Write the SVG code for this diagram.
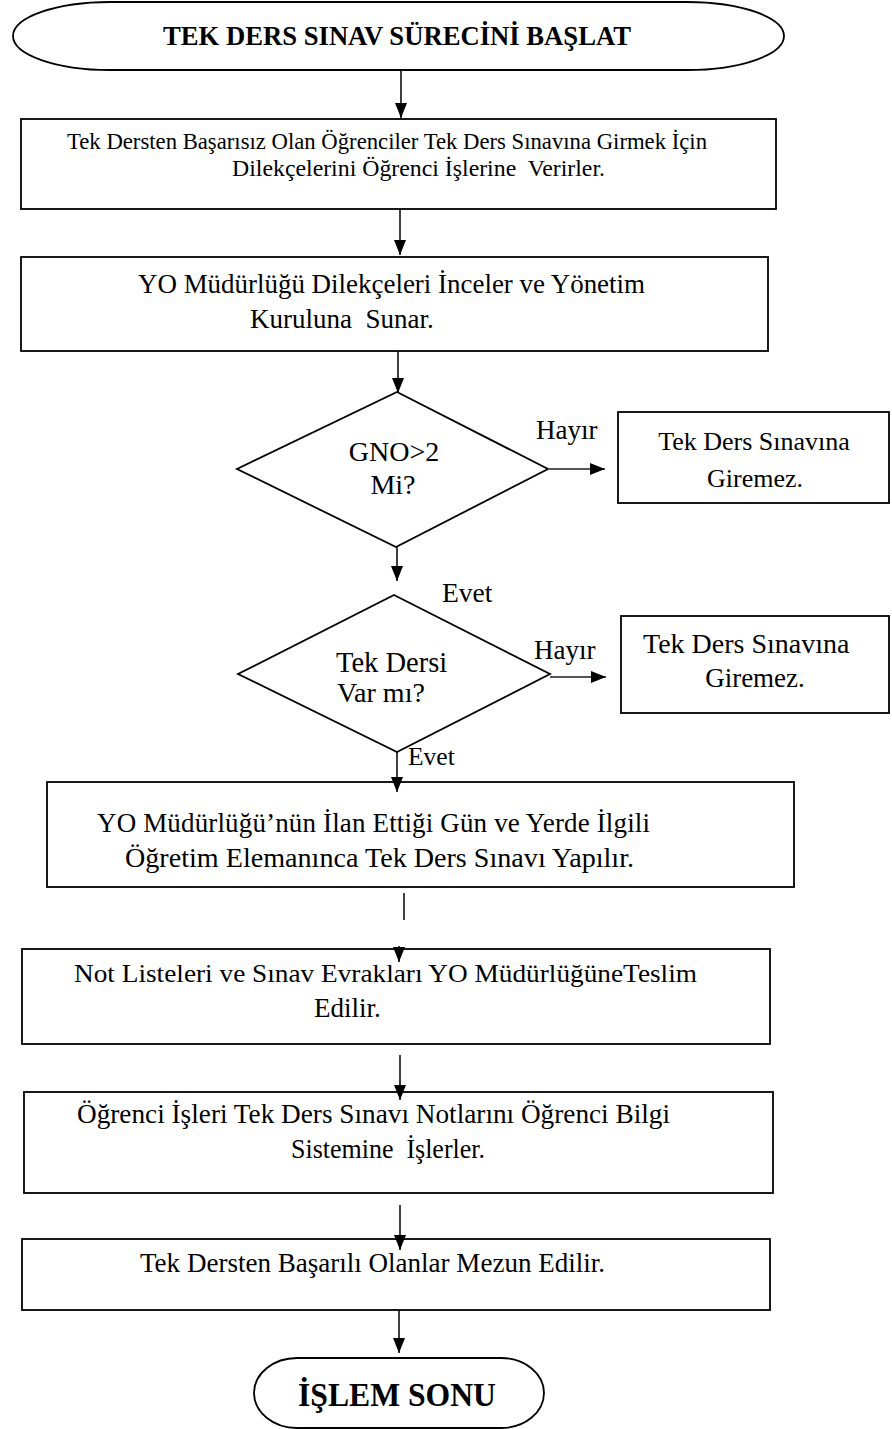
<svg xmlns="http://www.w3.org/2000/svg" width="892" height="1429" viewBox="0 0 892 1429">
<style>
  .shape { fill: #ffffff; stroke: #000000; stroke-width: 1.8; }
  .t { font-family: "Liberation Serif", "Times New Roman", serif; fill: #000000; }
  .b { font-weight: bold; }
  .conn { stroke: #000000; stroke-width: 1.5; fill: none; }
  .side { stroke: #555555; stroke-width: 2; fill: none; }
</style>
<defs>
  <marker id="ah" viewBox="0 0 15 12" refX="15" refY="6" markerWidth="15" markerHeight="12" markerUnits="userSpaceOnUse" orient="auto">
    <path d="M0,0 L15,6 L0,12 Z" fill="#000000"/>
  </marker>
</defs>
<rect x="0" y="0" width="892" height="1429" fill="#ffffff"/>

<g id="start">
  <path class="shape" d="M110,2 H687 A97,34 0 0 1 687,70 H110 A97,34 0 0 1 110,2 Z"/>
  <text class="t b" x="163" y="45" font-size="27" textLength="468" lengthAdjust="spacingAndGlyphs">TEK DERS SINAV SÜRECİNİ BAŞLAT</text>
</g>

<g id="box1">
  <rect class="shape" x="21" y="119" width="755" height="90"/>
  <text class="t" x="67" y="149" font-size="22.6" textLength="640" lengthAdjust="spacingAndGlyphs">Tek Dersten Başarısız Olan Öğrenciler Tek Ders Sınavına Girmek İçin</text>
  <text class="t" x="232" y="176" font-size="22.6" textLength="373" lengthAdjust="spacingAndGlyphs" xml:space="preserve">Dilekçelerini Öğrenci İşlerine  Verirler.</text>
</g>

<g id="box2">
  <rect class="shape" x="21" y="257" width="747" height="94"/>
  <text class="t" x="138" y="293" font-size="27" textLength="507" lengthAdjust="spacingAndGlyphs">YO Müdürlüğü Dilekçeleri İnceler ve Yönetim</text>
  <text class="t" x="250" y="328" font-size="27" xml:space="preserve">Kuruluna  Sunar.</text>
</g>

<g id="decision1">
  <polygon class="shape" points="397,392 548,469 396,547 237,469"/>
  <text class="t" x="394" y="461" font-size="28" text-anchor="middle">GNO&gt;2</text>
  <text class="t" x="393" y="494" font-size="28" text-anchor="middle">Mi?</text>
</g>

<g id="label-hayir1">
  <text class="t" x="536" y="439" font-size="27">Hayır</text>
</g>

<g id="reject1">
  <rect class="shape" x="618" y="412" width="271" height="91"/>
  <text class="t" x="754" y="450" font-size="26" text-anchor="middle">Tek Ders Sınavına</text>
  <text class="t" x="755" y="487" font-size="26" text-anchor="middle">Giremez.</text>
</g>

<g id="label-evet1">
  <text class="t" x="442" y="602" font-size="27.5">Evet</text>
</g>

<g id="decision2">
  <polygon class="shape" points="394,595 550,674 397,752 238,674"/>
  <text class="t" x="336" y="672" font-size="28.5">Tek Dersi</text>
  <text class="t" x="337" y="702" font-size="28">Var mı?</text>
</g>

<g id="label-hayir2">
  <text class="t" x="534" y="659" font-size="27">Hayır</text>
</g>

<g id="reject2">
  <rect class="shape" x="621" y="616" width="268" height="97"/>
  <text class="t" x="643" y="653" font-size="28">Tek Ders Sınavına</text>
  <text class="t" x="755" y="687" font-size="27" text-anchor="middle">Giremez.</text>
</g>

<g id="label-evet2">
  <text class="t" x="408" y="765" font-size="25.5">Evet</text>
</g>

<g id="box3">
  <rect class="shape" x="47" y="782" width="747" height="105"/>
  <text class="t" x="97" y="832" font-size="27" textLength="553" lengthAdjust="spacing">YO Müdürlüğü’nün İlan Ettiği Gün ve Yerde İlgili</text>
  <text class="t" x="125" y="867" font-size="27" textLength="509" lengthAdjust="spacingAndGlyphs">Öğretim Elemanınca Tek Ders Sınavı Yapılır.</text>
</g>

<g id="box4">
  <rect class="shape" x="22" y="949" width="748" height="95"/>
  <text class="t" x="74" y="982" font-size="26" textLength="623" lengthAdjust="spacingAndGlyphs">Not Listeleri ve Sınav Evrakları YO MüdürlüğüneTeslim</text>
  <text class="t" x="314" y="1017" font-size="27">Edilir.</text>
</g>

<g id="box5">
  <rect class="shape" x="24" y="1092" width="749" height="101"/>
  <text class="t" x="77" y="1123" font-size="27" textLength="593" lengthAdjust="spacingAndGlyphs">Öğrenci İşleri Tek Ders Sınavı Notlarını Öğrenci Bilgi</text>
  <text class="t" x="291" y="1158" font-size="27" textLength="194" lengthAdjust="spacingAndGlyphs" xml:space="preserve">Sistemine  İşlerler.</text>
</g>

<g id="box6">
  <rect class="shape" x="22" y="1239" width="748" height="71"/>
  <text class="t" x="140" y="1272" font-size="27" textLength="465" lengthAdjust="spacingAndGlyphs">Tek Dersten Başarılı Olanlar Mezun Edilir.</text>
</g>

<g id="end">
  <path class="shape" d="M297,1358 H501 A43,35 0 0 1 501,1428 H297 A43,35 0 0 1 297,1358 Z"/>
  <text class="t b" x="298" y="1406" font-size="34" textLength="198" lengthAdjust="spacingAndGlyphs">İŞLEM SONU</text>
</g>

<g id="connectors">
  <line class="conn" x1="401" y1="70" x2="401" y2="118" marker-end="url(#ah)"/>
  <line class="conn" x1="400" y1="209" x2="400" y2="255" marker-end="url(#ah)"/>
  <line class="conn" x1="398" y1="351" x2="398" y2="393" marker-end="url(#ah)"/>
  <line class="side" x1="548" y1="469" x2="605" y2="469" marker-end="url(#ah)"/>
  <line class="conn" x1="397" y1="547" x2="397" y2="581" marker-end="url(#ah)"/>
  <line class="side" x1="550" y1="677" x2="606" y2="677" marker-end="url(#ah)"/>
  <line class="conn" x1="397" y1="752" x2="397" y2="792" marker-end="url(#ah)"/>
  <line class="conn" x1="404" y1="893" x2="404" y2="920"/>
  <line class="conn" x1="399" y1="946" x2="399" y2="962" marker-end="url(#ah)"/>
  <line class="conn" x1="400" y1="1055" x2="400" y2="1100" marker-end="url(#ah)"/>
  <line class="conn" x1="400" y1="1205" x2="400" y2="1250" marker-end="url(#ah)"/>
  <line class="conn" x1="399" y1="1310" x2="399" y2="1353" marker-end="url(#ah)"/>
</g>
</svg>
